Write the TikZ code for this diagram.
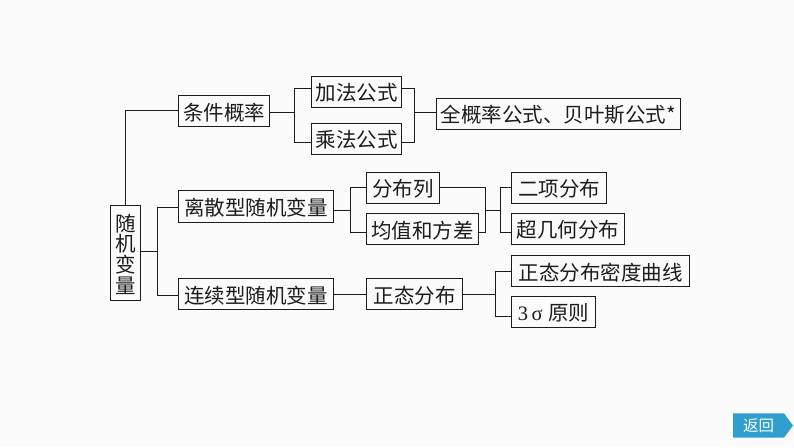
\documentclass[tikz,border=0pt]{standalone}
\usepackage{fontspec}
\setmainfont{Noto Sans CJK SC}
\newfontfamily\latinserif{Liberation Serif}
\definecolor{bgc}{HTML}{FBFBFB}
\definecolor{ink}{HTML}{1C1C1C}
\definecolor{btn}{HTML}{2F9FD0}
\tikzset{
  bx/.style={draw=ink,line width=1.6pt,inner sep=0pt,outer sep=0pt,text=ink,font=\fontsize{20.5}{20.6}\selectfont,align=center},
  link/.style={draw=ink,line width=1.6pt,line join=miter}
}
\newcommand{\boxn}[6]{%
  \pgfmathsetmacro\bw{#4-#2}\pgfmathsetmacro\bh{#5-#3}%
  \node[bx,minimum width=\bw pt,minimum height=\bh pt] (#1) at ({(#2+#4)/2},{(#3+#5)/2}) {\raisebox{-1.2pt}[\height][\depth]{#6}};}
\begin{document}
\begin{tikzpicture}[x=1pt,y=-1pt]
\path[fill=bgc] (0,0) rectangle (794,447);
\useasboundingbox (0,0) rectangle (794,447);
\boxn{root}{110.5}{205.5}{140.5}{300.5}{\vbox{\hbox{随}\hbox{机}\hbox{变}\hbox{量}}}
\boxn{cond}{178.5}{95.5}{269.5}{126.5}{条件概率}
\boxn{add}{311.5}{76.5}{401.5}{107.5}{加法公式}
\boxn{mul}{311.5}{123.5}{401.5}{154.5}{乘法公式}
\boxn{total}{436.5}{98.5}{680.5}{129.5}{全概率公式、贝叶斯公式*}
\boxn{disc}{178.5}{190.5}{333.5}{222.5}{离散型随机变量}
\boxn{dist}{366.5}{172.5}{439.5}{203.5}{分布列}
\boxn{mean}{366.5}{213.5}{478.5}{244.5}{均值和方差}
\boxn{binom}{511.5}{172.5}{606.5}{203.5}{二项分布}
\boxn{hyper}{511.5}{213.5}{624.5}{244.5}{超几何分布}
\boxn{cont}{178.5}{278.5}{333.5}{309.5}{连续型随机变量}
\boxn{norm}{366.5}{278.5}{462.5}{309.5}{正态分布}
\boxn{curve}{511.5}{255.5}{689.5}{286.5}{正态分布密度曲线}
\boxn{sigma}{511.5}{296.5}{595.5}{327.5}{{\latinserif 3\,σ}\hspace{5.5pt}原则}
% junction points
\coordinate (a1) at (125.5,110.5);
\coordinate (a2) at (157.5,251.5);
\coordinate (a3) at (294.5,112.5);
\coordinate (a4) at (414.5,112.5);
\coordinate (a5) at (350.5,210.5);
\coordinate (a6) at (485.5,210.5);
\coordinate (a7) at (500.5,210.5);
\coordinate (a8) at (495.5,294.5);
% root branches
\draw[link] (root.north-|a1) -- (a1) -- (cond.west|-a1);
\draw[link] (root.east|-a2) -- (a2);
\draw[link] (disc.west|-0,207.5) -| (a2) |- (cont.west|-0,295.5);
% conditional branch
\draw[link] (cond.east|-a3) -- (a3);
\draw[link] (add.west|-0,88.5) -| (a3) |- (mul.west|-0,142.5);
\draw[link] (add.east|-0,88.5) -| (a4) |- (mul.east|-0,142.5);
\draw[link] (a4) -- (total.west|-a4);
% discrete branch
\draw[link] (disc.east|-a5) -- (a5);
\draw[link] (dist.west|-0,187.5) -| (a5) |- (mean.west|-0,232.5);
\draw[link] (dist.east|-0,187.5) -| (a6) |- (mean.east|-0,232.5);
\draw[link] (a6) -- (a7);
\draw[link] (binom.west|-0,187.5) -| (a7) |- (hyper.west|-0,232.5);
% continuous branch
\draw[link] (cont.east|-a8) -- (norm.west|-a8);
\draw[link] (norm.east|-a8) -- (a8);
\draw[link] (curve.west|-0,271.5) -| (a8) |- (sigma.west|-0,316.5);
% return button
\fill[btn] (733,413.3) -- (784,413.3) -- (793,425.5) -- (784,437.7) -- (733,437.7) -- cycle;
\node[text=white,font=\fontsize{15.5}{16}\selectfont,inner sep=0pt] (back) at (758.5,425.5) {返回};
\end{tikzpicture}
\end{document}
